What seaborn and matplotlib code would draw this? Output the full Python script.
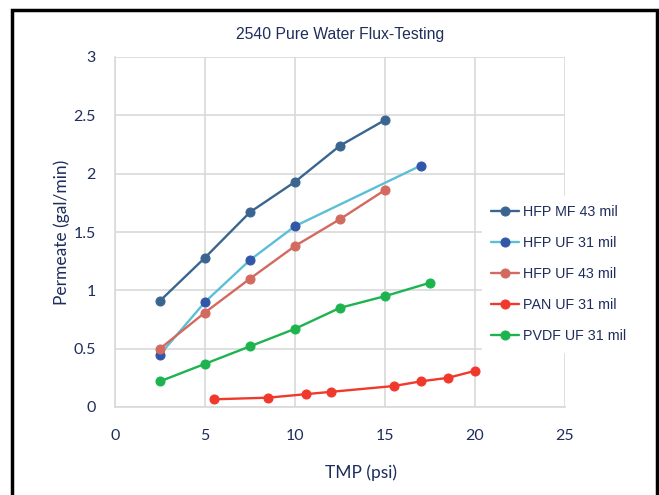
import matplotlib
matplotlib.use("Agg")
import matplotlib.pyplot as plt
import numpy as np
import pandas as pd
import seaborn as sns
from matplotlib.patches import Rectangle

# values
series_names = ["HFP MF 43 mil", "HFP UF 31 mil", "HFP UF 43 mil", "PAN UF 31 mil", "PVDF UF 31 mil"]

hfp_mf43_tmp = [2.5, 5, 7.5, 10, 12.5, 15]
hfp_mf43_flow = [0.91, 1.28, 1.67, 1.93, 2.24, 2.46]

hfp_uf31_tmp = [2.5, 5, 7.5, 10, 17]
hfp_uf31_flow = [0.45, 0.90, 1.26, 1.55, 2.07]

hfp_uf43_tmp = [2.5, 5, 7.5, 10, 12.5, 15]
hfp_uf43_flow = [0.50, 0.81, 1.10, 1.38, 1.61, 1.86]

pan_uf31_tmp = [5.5, 8.5, 10.6, 12, 15.5, 17, 18.5, 20]
pan_uf31_flow = [0.066, 0.08, 0.11, 0.13, 0.18, 0.22, 0.25, 0.31]

pvdf_uf31_tmp = [2.5, 5, 7.5, 10, 12.5, 15, 17.5]
pvdf_uf31_flow = [0.22, 0.37, 0.52, 0.67, 0.85, 0.95, 1.065]

line_colors = ["#3b6591", "#5bbfd6", "#d4695f", "#f0392b", "#1db450"]
marker_colors = ["#3b6591", "#3257a8", "#d4695f", "#f0392b", "#1db450"]

all_tmp = [hfp_mf43_tmp, hfp_uf31_tmp, hfp_uf43_tmp, pan_uf31_tmp, pvdf_uf31_tmp]
all_flow = [hfp_mf43_flow, hfp_uf31_flow, hfp_uf43_flow, pan_uf31_flow, pvdf_uf31_flow]

frames = []
for name, t, f in zip(series_names, all_tmp, all_flow):
    frames.append(pd.DataFrame({"TMP": t, "Permeate": f, "series": name}))
df = pd.concat(frames, ignore_index=True)

sns.set_style("white")
plt.rcParams["font.family"] = ["Liberation Sans", "DejaVu Sans"]
navy = "#1f2d5c"
grid_c = "#d9d9d9"

fig = plt.figure(figsize=(6.59, 4.95), dpi=100)
ax = fig.add_axes([115 / 659, 1 - 407 / 495, 450 / 659, 350 / 495])

for i, name in enumerate(series_names):
    sub = df[df["series"] == name]
    sns.lineplot(data=sub, x="TMP", y="Permeate", ax=ax, color=line_colors[i],
                 linewidth=1.7, marker="o", markersize=6.5,
                 markerfacecolor=marker_colors[i], markeredgecolor=marker_colors[i],
                 label=name, sort=False)

ax.set_xlim(0, 25)
ax.set_ylim(0, 3)
ax.set_xticks([0, 5, 10, 15, 20, 25])
ax.set_yticks([0, 0.5, 1, 1.5, 2, 2.5, 3])
ax.set_yticklabels(["0", "0.5", "1", "1.5", "2", "2.5", "3"])
ax.grid(True, color=grid_c, linewidth=1.2)
ax.set_axisbelow(True)
for s in ["top", "right"]:
    ax.spines[s].set_visible(False)
for s in ["left", "bottom"]:
    ax.spines[s].set_color(grid_c)
    ax.spines[s].set_linewidth(1.2)

ax.tick_params(axis="both", length=0, labelcolor=navy, labelsize=11.5)
ax.tick_params(axis="x", pad=16)
ax.tick_params(axis="y", pad=14)
for lab in ax.get_xticklabels() + ax.get_yticklabels():
    lab.set_family(["Lato", "DejaVu Sans"])

ax.set_xlabel("TMP (psi)", color=navy, fontsize=12.5, family=["Lato", "DejaVu Sans"])
ax.set_ylabel("Permeate (gal/min)", color=navy, fontsize=12.5, family=["Lato", "DejaVu Sans"])
ax.xaxis.set_label_coords((361 - 115) / 450, -(464 - 407) / 350)
ax.yaxis.set_label_coords(-(115 - 70) / 450, 0.5)

ax.set_title("2540 Pure Water Flux-Testing", color=navy, fontsize=11.3, pad=13)

leg = ax.legend(loc="upper left", bbox_to_anchor=(482 / 659, 1 - 196 / 495),
                bbox_transform=fig.transFigure, frameon=True, fancybox=False,
                framealpha=1, edgecolor="white", fontsize=10.3,
                labelspacing=1.2, handlelength=2.0, handletextpad=0.3,
                borderpad=0.6, borderaxespad=0)
for txt in leg.get_texts():
    txt.set_color(navy)

fig.patches.append(Rectangle((11.5 / 659, -0.05), 645.5 / 659, 1.05 - 9.5 / 495,
                             transform=fig.transFigure, fill=False,
                             edgecolor="black", linewidth=2.5))

fig.savefig("out.png", dpi=100, facecolor="white")
